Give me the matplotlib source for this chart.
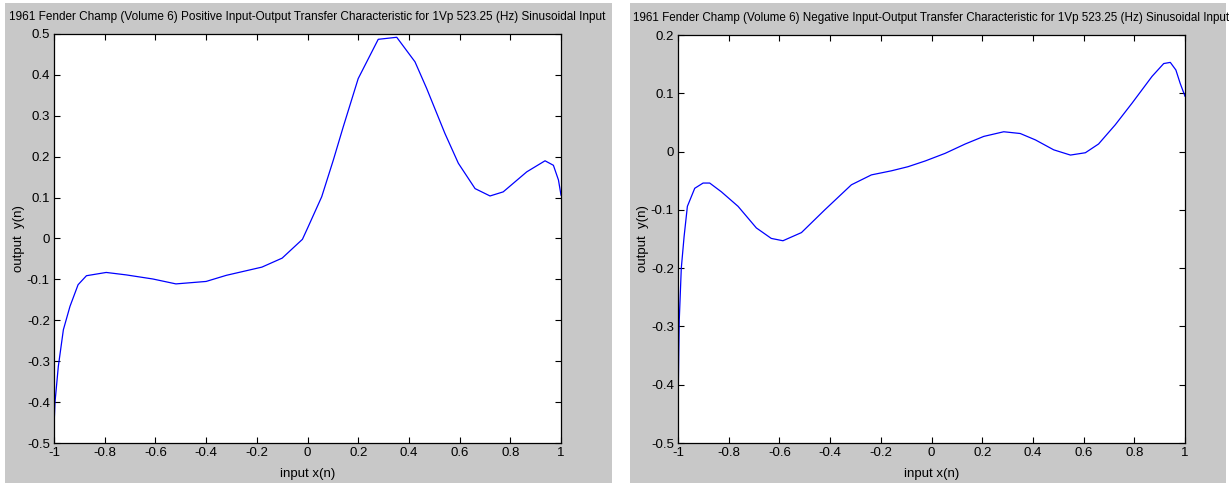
# Positive / negative input-output transfer characteristic, 1961 Fender Champ
import matplotlib
matplotlib.use('Agg')
import matplotlib.pyplot as plt
from matplotlib import font_manager
from matplotlib.patches import Rectangle
from matplotlib.ticker import FuncFormatter

names = {f.name for f in font_manager.fontManager.ttflist}
if 'Liberation Sans Narrow' in names:
    fam = 'Liberation Sans Narrow'
else:
    fam = 'Liberation Sans'
plt.rcParams['font.family'] = [fam, 'DejaVu Sans']

# values
pos_x = [-1.0, -0.996, -0.983, -0.963, -0.937, -0.905, -0.872, -0.794, -0.715,
         -0.61, -0.519, -0.40, -0.32, -0.18, -0.10, -0.02, 0.0, 0.056, 0.102,
         0.141, 0.200, 0.279, 0.352, 0.424, 0.470, 0.542, 0.595, 0.661, 0.720,
         0.772, 0.865, 0.937, 0.970, 0.990, 1.0]
pos_y = [-0.459, -0.40, -0.313, -0.223, -0.166, -0.113, -0.091, -0.083, -0.089,
         -0.099, -0.111, -0.105, -0.090, -0.070, -0.048, -0.002, 0.025, 0.102, 0.192,
         0.273, 0.391, 0.487, 0.492, 0.432, 0.367, 0.257, 0.184, 0.122, 0.104,
         0.114, 0.163, 0.190, 0.179, 0.143, 0.106]

neg_x = [-1.0, -0.997, -0.995, -0.987, -0.976, -0.963, -0.934, -0.901, -0.875,
         -0.829, -0.763, -0.691, -0.632, -0.586, -0.513, -0.421, -0.316, -0.237,
         -0.158, -0.093, -0.024, 0.054, 0.133, 0.206, 0.285, 0.350, 0.410,
         0.482, 0.548, 0.607, 0.659, 0.725, 0.791, 0.870, 0.916, 0.942, 0.964,
         0.981, 1.0]
neg_y = [-0.449, -0.346, -0.289, -0.2, -0.146, -0.094, -0.063, -0.054, -0.054,
         -0.069, -0.094, -0.131, -0.149, -0.153, -0.139, -0.100, -0.057, -0.040,
         -0.033, -0.026, -0.016, -0.003, 0.013, 0.026, 0.034, 0.031, 0.020,
         0.003, -0.006, -0.002, 0.013, 0.046, 0.083, 0.129, 0.151, 0.153, 0.140,
         0.117, 0.095]

titles = ['1961 Fender Champ (Volume 6) Positive Input-Output Transfer Characteristic for 1Vp 523.25 (Hz) Sinusoidal Input',
          '1961 Fender Champ (Volume 6) Negative Input-Output Transfer Characteristic for 1Vp 523.25 (Hz) Sinusoidal Input']
xticks = [-1, -0.8, -0.6, -0.4, -0.2, 0, 0.2, 0.4, 0.6, 0.8, 1]
pos_yticks = [-0.5, -0.4, -0.3, -0.2, -0.1, 0, 0.1, 0.2, 0.3, 0.4, 0.5]
neg_yticks = [-0.5, -0.4, -0.3, -0.2, -0.1, 0, 0.1, 0.2]

W, H = 1229, 486
fig = plt.figure(figsize=(W / 100, H / 100), dpi=100, facecolor='white')

gray = '#c8c8c8'
# figure window backgrounds (MATLAB style grey)
fig.patches.append(Rectangle((5 / W, 3 / H), 607 / W, 480 / H, transform=fig.transFigure,
                             facecolor=gray, edgecolor='none', zorder=-5))
fig.patches.append(Rectangle((630 / W, 3 / H), 596 / W, 480 / H, transform=fig.transFigure,
                             facecolor=gray, edgecolor='none', zorder=-5))

ax1 = fig.add_axes([54 / W, 1 - 443 / H, 507 / W, 409 / H])
ax2 = fig.add_axes([678 / W, 1 - 443 / H, 507 / W, 408 / H])

fmt = FuncFormatter(lambda v, p: '%g' % round(v, 2))
rend = fig.canvas.get_renderer()
fs = 9.5 if fam == 'Liberation Sans' else 10.5

for ax, xs, ys, yt, ttl in [(ax1, pos_x, pos_y, pos_yticks, titles[0]),
                            (ax2, neg_x, neg_y, neg_yticks, titles[1])]:
    ax.set_facecolor('white')
    ax.plot(xs, ys, color='#0000ff', lw=0.9)
    ax.set_xlim(-1, 1)
    ax.set_ylim(yt[0], yt[-1])
    ax.set_xticks(xticks)
    ax.set_yticks(yt)
    ax.xaxis.set_major_formatter(fmt)
    ax.yaxis.set_major_formatter(fmt)
    ax.tick_params(direction='in', length=4, width=0.8, top=True, right=True,
                   labelsize=fs, pad=3, colors='black')
    for s in ax.spines.values():
        s.set_linewidth(0.9)
        s.set_color('black')
    t = ax.set_title(ttl, fontsize=10, pad=10)
    # shrink the title so it spans about 597 px like the reference
    w = t.get_window_extent(rend).width
    t.set_fontsize(10 * 597 / w)
    ax.set_xlabel('input x(n)', fontsize=fs, labelpad=6)
    ax.set_ylabel('output  y(n)', fontsize=fs, labelpad=1.5)

plt.savefig('out.png', dpi=100, facecolor='white')
